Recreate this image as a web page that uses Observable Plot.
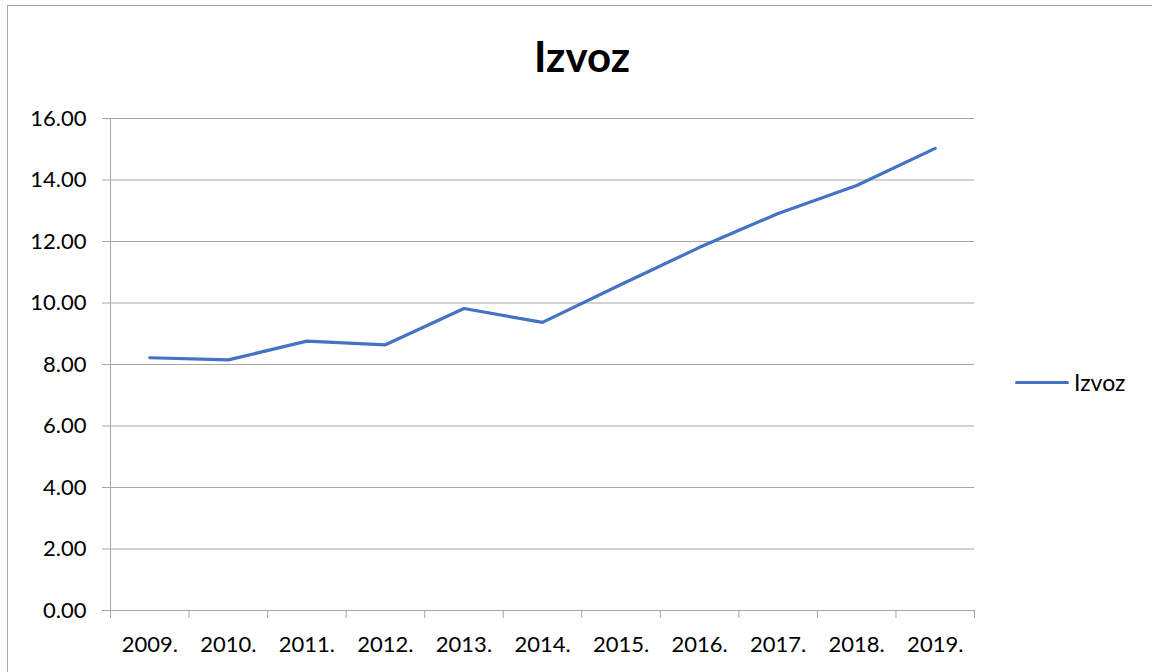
<!DOCTYPE html>
<html><head><meta charset="utf-8">
<script src="https://cdn.jsdelivr.net/npm/d3@7"></script>
<script src="https://cdn.jsdelivr.net/npm/@observablehq/plot@0.6"></script>
<style>
body{margin:0;background:#fff;font-family:Lato,sans-serif}
#wrap{position:relative;width:1152px;height:672px;overflow:hidden;background:#fff}
#border{position:absolute;left:7px;top:5px;width:1200px;height:800px;border-top:1px solid #9a9a9a;border-left:1px solid #a8a8a8}
#title{position:absolute;left:0;width:1164px;top:35px;text-align:center;font:bold 42px Lato;line-height:42px;color:#000}
#legend{position:absolute;left:1015px;top:371px;display:flex;align-items:center;font:23px Lato;line-height:23px;color:#000}
#legend .sw{width:54px;height:3px;background:#4472C4;margin-right:5px;border-radius:2px}
#chart{position:absolute;left:0;top:0}
</style></head>
<body>
<div id="wrap">
  <div id="border"></div>
  <div id="chart"></div>
  <div id="title">Izvoz</div>
  <div id="legend"><div class="sw"></div><span>Izvoz</span></div>
</div>
<script>
const years = ["2009.","2010.","2011.","2012.","2013.","2014.","2015.","2016.","2017.","2018.","2019."];
const values = [8.22, 8.15, 8.76, 8.64, 9.82, 9.37, 10.6, 11.81, 12.91, 13.82, 15.03];
const yTicks = [0, 2, 4, 6, 8, 10, 12, 14, 16];
const seriesName = "Izvoz";

const data = years.map((y, i) => ({i, year: y, value: values[i]}));
const idx = d3.range(years.length);
const bounds = d3.range(years.length + 1).map(i => i - 0.5);

const plot = Plot.plot({
  width: 1152, height: 672,
  marginLeft: 110, marginRight: 178, marginTop: 118, marginBottom: 62,
  x: {type: "linear", domain: [-0.5, years.length - 0.5]},
  y: {domain: [0, 16]},
  style: {fontFamily: "Lato, sans-serif", fontSize: "22px", color: "#000", background: "transparent"},
  marks: [
    Plot.gridY(yTicks, {stroke: "#a6a6a6", strokeOpacity: 1}),
    Plot.ruleY([0], {stroke: "#a6a6a6"}),
    Plot.ruleX([-0.5], {stroke: "#a6a6a6"}),
    Plot.axisY(yTicks, {tickSize: 8, tickPadding: 16, tickFormat: d => d.toFixed(2), stroke: "#a6a6a6", fill: "#000", label: null, fontSize: 22}),
    Plot.axisX(idx, {tickSize: 0, tickPadding: 26, tickFormat: i => years[i], fill: "#000", label: null, fontSize: 22}),
    Plot.axisX(bounds, {tickSize: 8, tickFormat: () => "", stroke: "#a6a6a6", label: null}),
    Plot.line(data, {x: "i", y: "value", stroke: "#4472C4", strokeWidth: 3.2, strokeLinejoin: "round", strokeLinecap: "round"})
  ]
});
document.getElementById("chart").appendChild(plot);
</script>
</body></html>
